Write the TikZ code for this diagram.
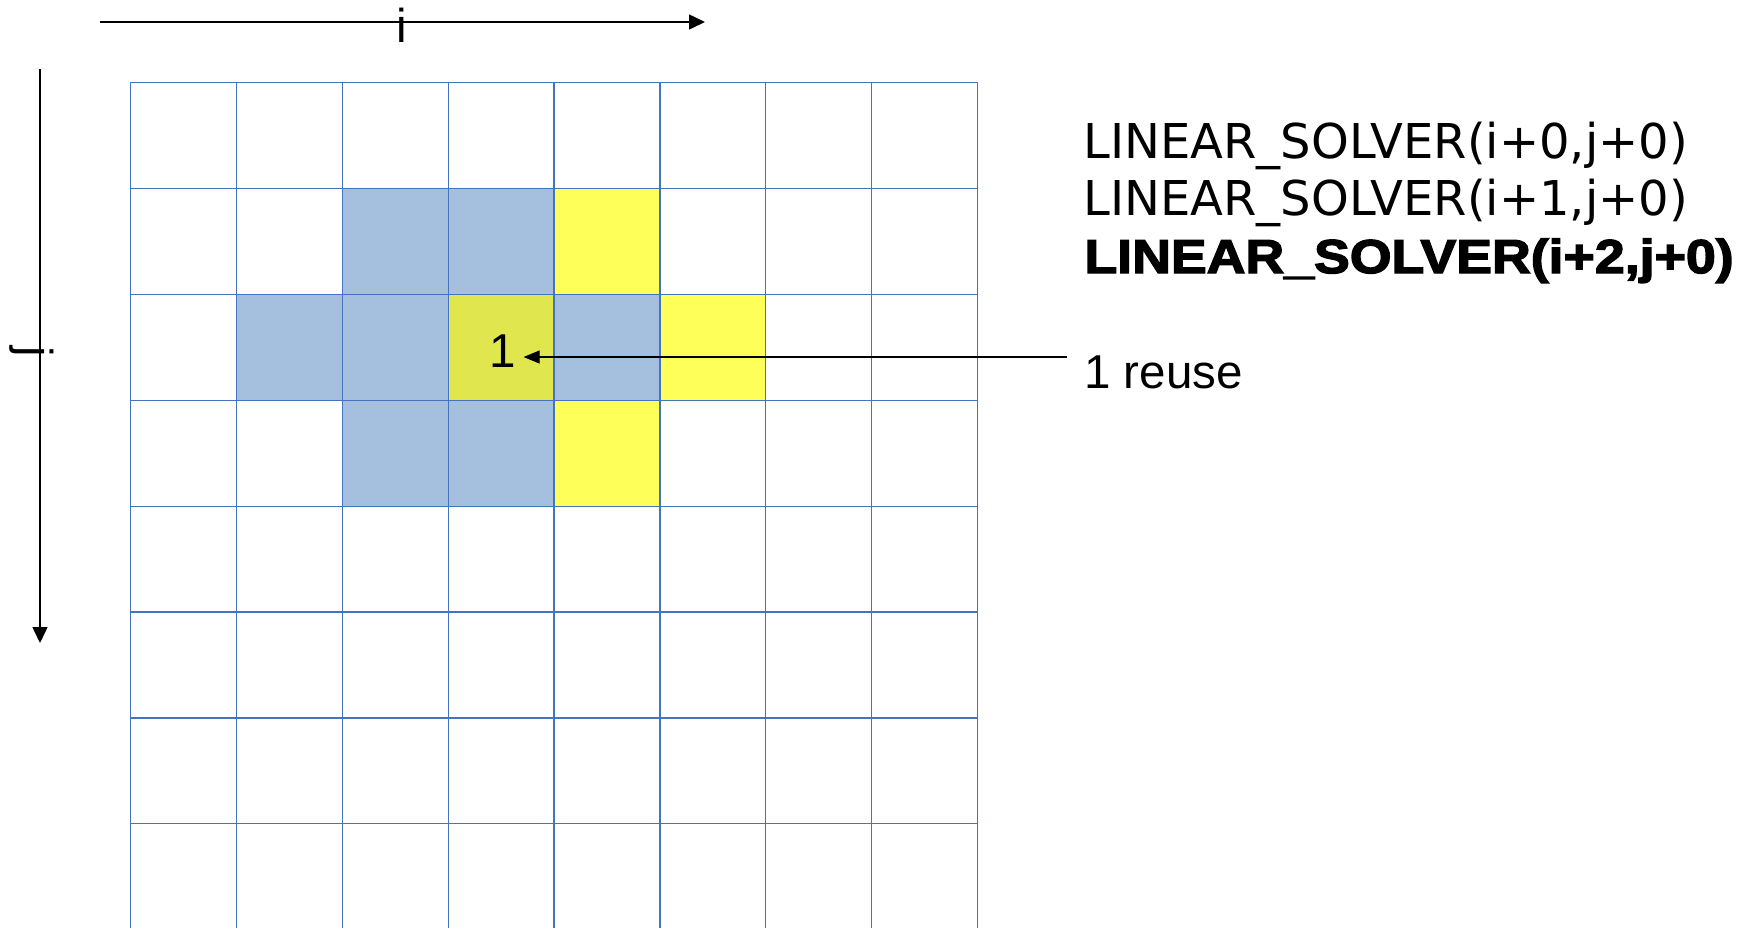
\documentclass[tikz,border=0pt]{standalone}
\usepackage{fontspec}
\setmainfont{Liberation Sans}
\newfontfamily\solverfont{DejaVu Sans}
\newfontfamily\heavyfont{Liberation Sans}[FakeStretch=1.13, BoldFeatures={FakeBold=3}]
\usepackage{tikz}
\usetikzlibrary{arrows.meta, positioning}
\definecolor{gridblue}{RGB}{70,115,190}
\definecolor{cellblue}{RGB}{164,192,222}
\definecolor{cellyellow}{RGB}{255,255,90}
\definecolor{cellhit}{RGB}{224,230,78}
\tikzset{
  gridline/.style={draw=gridblue, line width=0.6pt},
  bluecell/.style={fill=cellblue},
  yellowcell/.style={fill=cellyellow},
  hitcell/.style={fill=cellhit},
  axis/.style={-{Triangle[length=8pt, width=7.5pt]}, line width=0.75pt, color=black},
  pointer/.style={-{Triangle[length=8pt, width=6.5pt]}, line width=0.6pt, color=black},
  axislabel/.style={inner sep=0pt, font=\fontsize{23.75}{28}\selectfont},
  celllabel/.style={inner sep=3.5pt, anchor=base, font=\fontsize{23.75}{28}\selectfont},
  solvertext/.style={inner sep=0pt, anchor=base west,
    font=\solverfont\fontsize{24}{28}\selectfont},
  heavytext/.style={inner sep=0pt, anchor=base west,
    font=\heavyfont\bfseries\fontsize{23.75}{28}\selectfont},
  reusetext/.style={inner sep=0pt, anchor=base west, font=\fontsize{23.75}{28}\selectfont}
}

\begin{document}
\begin{tikzpicture}[x=0.5pt, y=-0.5pt]
  \useasboundingbox (0,0) rectangle (1748,928);

  % stencil cells
  \foreach \c/\r in {2/1,3/1,1/2,2/2,4/2,2/3,3/3}
    \fill[bluecell] (130.4+\c*105.9, 82.5+\r*105.9) rectangle ++(105.9,105.9);
  \foreach \c/\r in {4/1,5/2,4/3}
    \fill[yellowcell] (130.4+\c*105.9, 82.5+\r*105.9) rectangle ++(105.9,105.9);
  \fill[hitcell] (130.4+3*105.9, 82.5+2*105.9) rectangle ++(105.9,105.9);

  % grid
  \foreach \k in {0,...,8}
    \draw[gridline] (130.4+\k*105.9, 82.5) -- (130.4+\k*105.9, 928);
  \foreach \k in {0,...,7}
    \draw[gridline] (130.4, 82.5+\k*105.9) -- (977.6, 82.5+\k*105.9);

  % axes
  \coordinate (istart) at (100,22);
  \coordinate (iend) at (705,22);
  \draw[axis] (istart) -- (iend);
  \node[axislabel] (ilabel) at (402,25) {i};
  \coordinate (jstart) at (40,69);
  \coordinate (jend) at (40,643);
  \draw[axis] (jstart) -- (jend);
  \node[axislabel, rotate=-90] (jlabel) at (32,352) {j};

  % calls
  \node[solvertext] (solvea) at (1083,158) {LINEAR\_SOLVER(i+0,j+0)};
  \node[solvertext] (solveb) at (1083,215) {LINEAR\_SOLVER(i+1,j+0)};
  \node[heavytext] (solvec) at (1084,273) {LINEAR\_SOLVER(i+2,j+0)};

  % reuse
  \node[celllabel] (one) at (503,367) {1};
  \node[reusetext] (reuse) at (1084,388) {1 reuse};
  \coordinate (tail) at (1067,357);
  \draw[pointer] (tail) -- (tail -| one.east);
\end{tikzpicture}
\end{document}
